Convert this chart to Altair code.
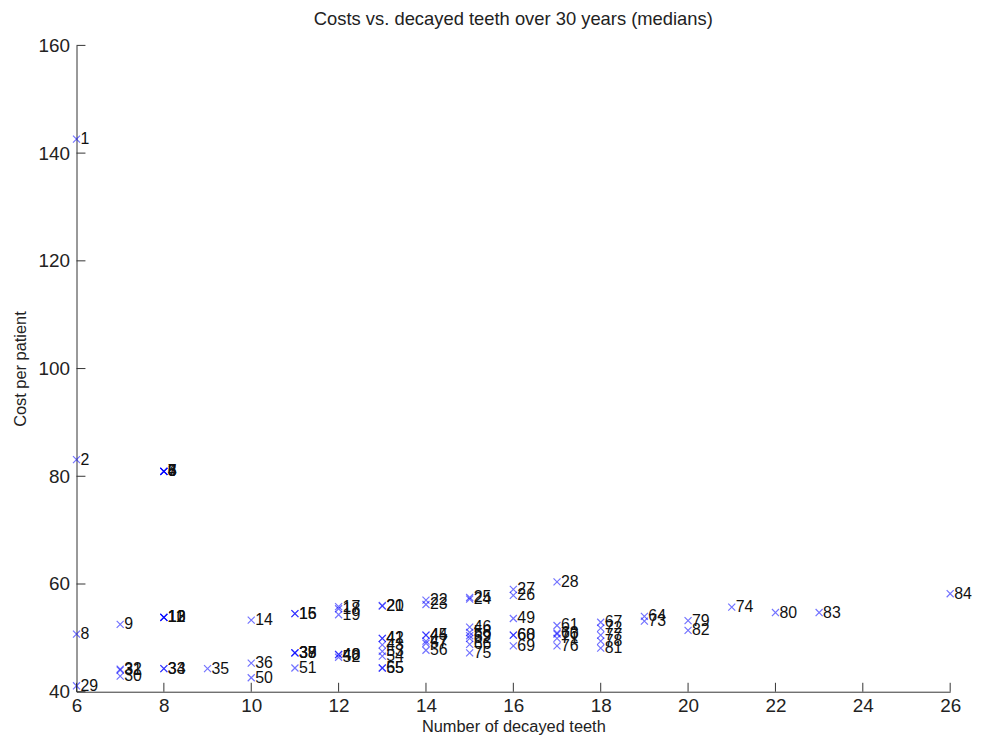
import altair as alt
import pandas as pd

# ---- data ----
labels = list(range(1, 85))
teeth = [6, 6, 8, 8, 8, 8, 8, 6, 7, 8,
         8, 8, 8, 10, 11, 11, 12, 12, 12, 13,
         13, 14, 14, 15, 15, 16, 16, 17, 6, 7,
         7, 7, 8, 8, 9, 10, 11, 11, 11, 12,
         13, 13, 13, 14, 14, 15, 14, 12, 16, 10,
         11, 12, 13, 13, 13, 14, 14, 15, 15, 16,
         17, 15, 17, 19, 13, 15, 18, 16, 16, 17,
         17, 18, 19, 21, 15, 17, 18, 18, 20, 22,
         18, 20, 23, 26]
cost = [142.6, 83.1, 80.9, 80.9, 80.9, 80.9, 80.9, 50.7, 52.5, 53.8,
        53.8, 53.8, 53.8, 53.3, 54.5, 54.5, 55.8, 55.4, 54.3, 55.9,
        56.0, 57.0, 56.2, 57.2, 57.5, 57.9, 59.0, 60.4, 41.1, 42.9,
        44.0, 44.2, 44.3, 44.3, 44.3, 45.3, 47.2, 47.2, 47.2, 46.9,
        49.9, 49.9, 48.7, 50.5, 50.5, 52.0, 49.4, 46.9, 53.6, 42.6,
        44.4, 46.4, 47.5, 46.6, 44.4, 47.7, 49.0, 51.0, 50.4, 50.5,
        52.3, 49.9, 50.9, 54.0, 44.4, 48.8, 52.9, 50.5, 48.5, 50.7,
        49.9, 51.8, 53.1, 55.7, 47.2, 48.5, 50.5, 49.4, 53.2, 54.7,
        48.1, 51.4, 54.7, 58.2]
x_ticks = [6, 8, 10, 12, 14, 16, 18, 20, 22, 24, 26]
y_ticks = [40, 60, 80, 100, 120, 140, 160]

df = pd.DataFrame({"label": [str(v) for v in labels], "teeth": teeth, "cost": cost})

W, H = 880, 651
FONT = "Liberation Sans"
xs = alt.Scale(domain=[6, 26], nice=False, zero=False)
ys = alt.Scale(domain=[40, 160], nice=False, zero=False)

x_axis = alt.Axis(values=x_ticks, title="Number of decayed teeth", grid=False,
                  ticks=False, tickSize=0, domainColor="#333333", domainWidth=1,
                  labelFont=FONT, labelFontSize=19, labelColor="#222222",
                  labelPadding=5, titleFont=FONT, titleFontSize=16.5,
                  titleFontWeight="normal", titleColor="#222222", titlePadding=3,
                  labelFlush=False)
y_axis = alt.Axis(values=y_ticks, title="Cost per patient", grid=False,
                  ticks=False, tickSize=0, domainColor="#333333", domainWidth=1,
                  labelFont=FONT, labelFontSize=19, labelColor="#222222",
                  labelPadding=7, titleFont=FONT, titleFontSize=16.5,
                  titleFontWeight="normal", titleColor="#222222", titlePadding=10,
                  labelFlush=False)

base = alt.Chart(df)
pts = base.mark_point(shape="M-1,-1L1,1M-1,1L1,-1", size=50, filled=False,
                      color="#0000ff", opacity=0.55, strokeWidth=1.2).encode(
    x=alt.X("teeth:Q", scale=xs, axis=x_axis),
    y=alt.Y("cost:Q", scale=ys, axis=y_axis),
)
txt = base.mark_text(align="left", baseline="middle", dx=4, fontSize=16,
                     font=FONT, color="#111111").encode(
    x=alt.X("teeth:Q", scale=xs),
    y=alt.Y("cost:Q", scale=ys),
    text="label:N",
)

xt = alt.Chart(pd.DataFrame({"teeth": x_ticks})).mark_rule(color="#333333", strokeWidth=1).encode(
    x=alt.X("teeth:Q", scale=xs),
    y=alt.value(H - 9), y2=alt.value(H),
)
yt = alt.Chart(pd.DataFrame({"cost": y_ticks})).mark_rule(color="#333333", strokeWidth=1).encode(
    y=alt.Y("cost:Q", scale=ys),
    x=alt.value(0), x2=alt.value(9),
)

chart = alt.layer(pts, txt, xt, yt).properties(
    width=W, height=H,
    title=alt.Title("Costs vs. decayed teeth over 30 years (medians)", font=FONT,
                    fontSize=18.5, fontWeight="normal", color="#222222",
                    anchor="middle", frame="group", offset=8),
    autosize="none",
    padding={"left": 69, "top": 35, "right": 24, "bottom": 52},
).configure_view(stroke=None)

chart.save("out.html", embed_options={"renderer": "svg", "actions": False})
